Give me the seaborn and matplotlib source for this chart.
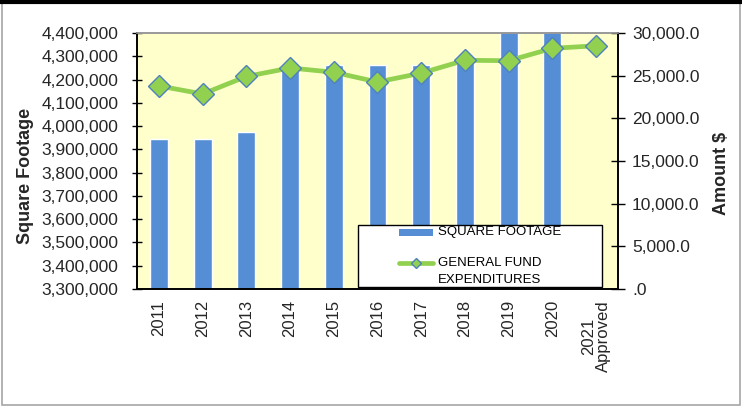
# Square footage vs general fund expenditures (bar + line, twin axes)
import matplotlib
matplotlib.use('Agg')
import matplotlib.pyplot as plt
from matplotlib.ticker import FuncFormatter, FixedLocator
from matplotlib.patches import Rectangle
from matplotlib.lines import Line2D
import seaborn as sns
import pandas as pd
import numpy as np

# Data
years = ['2011', '2012', '2013', '2014', '2015', '2016', '2017', '2018',
         '2019', '2020', '2021\nApproved']
square_footage = [3943000, 3943000, 3975000, 4262000, 4264000, 4264000,
                  4264000, 4300000, 4500000, 4500000, np.nan]
expenditures = [23800, 22850, 24900, 25900, 25400, 24250, 25300, 26800,
                26750, 28200, 28500]

df = pd.DataFrame({'Year': years, 'SqFt': square_footage,
                   'Expenditures': expenditures})
df['pos'] = range(len(years))

sns.set_style('white')
plt.rcParams['font.family'] = ['Liberation Sans', 'DejaVu Sans']

fig = plt.figure(figsize=(7.42, 4.08), dpi=100)
ax = fig.add_axes([0.1846, 0.2917, 0.6483, 0.6275])
ax.set_facecolor('#FFFFCC')

bar_color = '#558ED5'
line_color = '#92D050'
edge_blue = '#4F81BD'

sns.barplot(data=df, x='Year', y='SqFt', order=years, color=bar_color,
            width=0.41, saturation=1, ax=ax, errorbar=None)
ax.set_xlim(-0.5, len(years) - 0.5)
ax.set_ylim(3300000, 4400000)
ax.set_yticks(np.arange(3300000, 4400001, 100000))
ax.yaxis.set_major_formatter(FuncFormatter(lambda v, p: f'{v:,.0f}'))
ax.set_ylabel('Square Footage', fontsize=13, fontweight='bold')
ax.yaxis.set_label_coords(-0.214, 0.44)
ax.set_xlabel('')

# category labels at centres, tick marks at boundaries
ax.set_xticks(range(len(years)))
ax.set_xticklabels(years, rotation=90, fontsize=12, linespacing=1.0)
ax.xaxis.set_minor_locator(FixedLocator(np.arange(-0.5, len(years), 1)))
ax.tick_params(axis='x', which='major', length=0, pad=8)
ax.tick_params(axis='x', which='minor', direction='inout', length=7, width=1, color='black')
ax.tick_params(axis='y', direction='inout', length=7, width=1, color='black',
               labelsize=12.5, pad=10, left=True)

ax2 = ax.twinx()
sns.lineplot(data=df, x='pos', y='Expenditures', ax=ax2, color=line_color,
             linewidth=3.4, marker='D', markersize=11,
             markerfacecolor=line_color, markeredgecolor=edge_blue,
             markeredgewidth=1.0)
ax2.set_ylim(0, 30000)
ax2.set_yticks(np.arange(0, 30001, 5000))
ax2.yaxis.set_major_formatter(
    FuncFormatter(lambda v, p: '.0' if v == 0 else f'{v:,.1f}'))
ax2.set_ylabel('Amount $', fontsize=13, fontweight='bold')
ax2.yaxis.set_label_coords(1.198, 0.45)
ax2.set_xlabel('')
ax2.tick_params(axis='y', direction='inout', length=10, width=1, color='black',
                labelsize=12.5, pad=5, right=True)
ax2.set_xlim(-0.5, len(years) - 0.5)

for a in (ax, ax2):
    for side in ('left', 'right', 'bottom'):
        a.spines[side].set_color('black')
        a.spines[side].set_linewidth(1.2)
    a.spines['top'].set_color('#999999')
    a.spines['top'].set_linewidth(1.2)

# legend box drawn by hand (Excel style, handle aligned with first text line)
ta = ax2.transAxes
ax2.add_patch(Rectangle((0.4595, 0.008), 0.507, 0.242, transform=ta,
                        facecolor='white', edgecolor='black', linewidth=1.0,
                        zorder=10, clip_on=False))
ax2.add_patch(Rectangle((0.5447, 0.207), 0.0707, 0.027, transform=ta,
                        facecolor=bar_color, edgecolor='none', zorder=11))
ax2.add_line(Line2D([0.5447, 0.6154], [0.1016, 0.1016], transform=ta,
                    color=line_color, linewidth=3.4, zorder=11))
ax2.add_line(Line2D([0.58], [0.1016], transform=ta, marker='D', markersize=5,
                    markerfacecolor=line_color, markeredgecolor=edge_blue,
                    zorder=12))
legend_font = dict(fontsize=9.5, va='center', ha='left', transform=ta,
                   zorder=12, color='black')
ax2.text(0.6258, 0.222, 'SQUARE FOOTAGE', **legend_font)
ax2.text(0.6258, 0.1016, 'GENERAL FUND', **legend_font)
ax2.text(0.6258, 0.037, 'EXPENDITURES', **legend_font)

# figure border: black top line, grey frame
fig.add_artist(Rectangle((0.003, 0.008), 0.994, 0.985, transform=fig.transFigure,
                         fill=False, edgecolor='#A6A6A6', linewidth=1.2))
fig.add_artist(Line2D([0, 1], [0.995, 0.995], transform=fig.transFigure,
                      color='black', linewidth=3))

fig.savefig('out.png', dpi=100)
